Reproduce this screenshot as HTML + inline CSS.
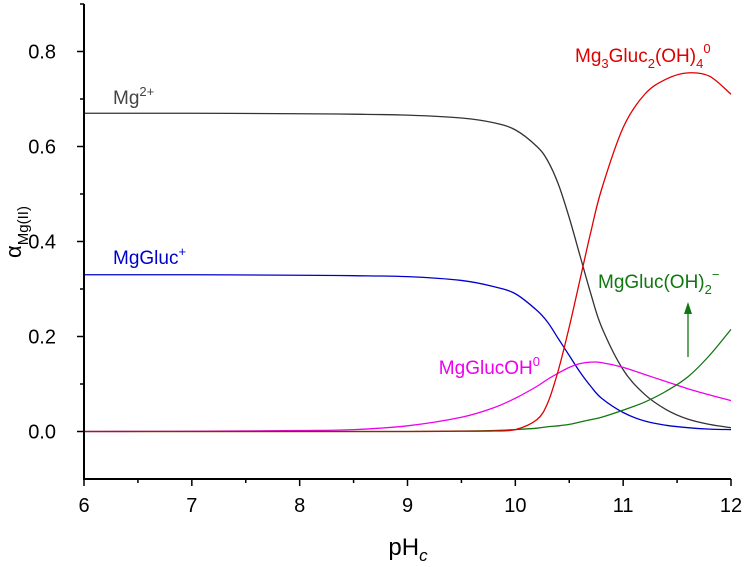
<!DOCTYPE html>
<html><head><meta charset="utf-8"><style>
body{margin:0;background:#fff}
svg text{font-family:"Liberation Sans",Arial,sans-serif}
</style></head><body>
<svg id="c" width="744" height="562"></svg>
<script>
const pH = [6,7,8,8.5,9,9.5,9.8,10,10.2,10.3,10.4,10.5,10.6,10.7,10.8,11,11.2,11.4,11.6,11.8,12];
const mg2 = [0.67,0.67,0.669,0.668,0.666,0.66,0.65,0.635,0.6,0.57,0.52,0.45,0.37,0.29,0.22,0.13,0.078,0.046,0.026,0.015,0.008];
const mgGluc = [0.33,0.33,0.329,0.328,0.326,0.318,0.305,0.29,0.255,0.23,0.195,0.16,0.125,0.095,0.07,0.04,0.022,0.013,0.008,0.005,0.004];
const mgGlucOH = [0,0.0005,0.002,0.004,0.012,0.03,0.05,0.07,0.095,0.11,0.123,0.135,0.143,0.146,0.145,0.135,0.12,0.105,0.09,0.077,0.065];
const mg3 = [0,0,0,0,0,0.0005,0.001,0.004,0.025,0.06,0.13,0.22,0.32,0.42,0.51,0.64,0.71,0.742,0.755,0.748,0.71];
const mgGlucOH2 = [0,0,0,0,0,0.001,0.002,0.004,0.007,0.01,0.012,0.015,0.02,0.025,0.03,0.045,0.062,0.085,0.115,0.16,0.215];
const xTicks = [6,7,8,9,10,11,12];
const yTicks = [0,0.2,0.4,0.6,0.8];
const X0=84,X1=731,Y0=479,Y1=4,xmin=6,xmax=12,ymin=-0.1,ymax=0.9;
const sx=v=>X0+(v-xmin)/(xmax-xmin)*(X1-X0);
const sy=v=>Y0-(v-ymin)/(ymax-ymin)*(Y0-Y1);
const svg=document.getElementById('c');
const NS='http://www.w3.org/2000/svg';
function mk(t,a,p){const e=document.createElementNS(NS,t);for(const k in a)e.setAttribute(k,a[k]);(p||svg).appendChild(e);return e;}
function path(xs,ys){const P=xs.map((x,i)=>[sx(x),sy(ys[i])]);let d='M'+P[0][0]+','+P[0][1];
for(let i=0;i<P.length-1;i++){const p0=P[Math.max(0,i-1)],p1=P[i],p2=P[i+1],p3=P[Math.min(P.length-1,i+2)];
const c1=[p1[0]+(p2[0]-p0[0])/6,p1[1]+(p2[1]-p0[1])/6],c2=[p2[0]-(p3[0]-p1[0])/6,p2[1]-(p3[1]-p1[1])/6];
d+=' C'+c1[0]+','+c1[1]+' '+c2[0]+','+c2[1]+' '+p2[0]+','+p2[1];}return d;}
const series=[[mg2,'#333333','mg2-line'],[mgGluc,'#0000cc','mggluc-line'],[mgGlucOH,'#ee00ee','mgglucoh-line'],[mgGlucOH2,'#117711','mggluc-oh2-line'],[mg3,'#e00000','mg3gluc2oh4-line']];
series.forEach(s=>{const e=mk('path',{d:path(pH,s[0]),fill:'none',stroke:s[1],'stroke-width':1.3});

});
const ax=mk('path',{d:`M${X0},${Y1} V${Y0} H${X1}`,fill:'none',stroke:'#000','stroke-width':2});


xTicks.forEach(v=>{mk('line',{x1:sx(v),x2:sx(v),y1:Y0,y2:Y0+7,stroke:'#000','stroke-width':1.5});
const t=mk('text',{x:sx(v),y:Y0+33,'font-size':20,'text-anchor':'middle'});t.textContent=v;


if(v<12)mk('line',{x1:sx(v+0.5),x2:sx(v+0.5),y1:Y0,y2:Y0+4,stroke:'#000','stroke-width':1.5});});
yTicks.forEach(v=>{mk('line',{x1:X0-7,x2:X0,y1:sy(v),y2:sy(v),stroke:'#000','stroke-width':1.5});
const t=mk('text',{x:X0-28,y:sy(v)+7,'font-size':20,'text-anchor':'end'});t.textContent=v.toFixed(1);


mk('line',{x1:X0-4,x2:X0,y1:sy(v+0.1),y2:sy(v+0.1),stroke:'#000','stroke-width':1.5});});
</script>
<svg width="744" height="562" style="position:absolute;left:0;top:0">
<text x="408" y="555" font-size="24" text-anchor="middle">pH<tspan font-size="17" dy="6" font-style="italic">c</tspan></text>
<text transform="translate(21,232) rotate(-90)" font-size="22" text-anchor="middle">α<tspan font-size="15" dy="7">Mg(II)</tspan></text>
<text x="113" y="104" font-size="19" fill="#444">Mg<tspan font-size="13" dy="-8">2+</tspan></text>
<text x="113" y="264" font-size="19" fill="#0000cc">MgGluc<tspan font-size="13" dy="-8">+</tspan></text>
<text x="540" y="374" font-size="19" fill="#ee00ee" text-anchor="end">MgGlucOH<tspan font-size="13" dy="-8">0</tspan></text>
<text x="575" y="62" font-size="19" fill="#e00000">Mg<tspan font-size="13" dy="6">3</tspan><tspan dy="-6">Gluc</tspan><tspan font-size="13" dy="6">2</tspan><tspan dy="-6">(OH)</tspan><tspan font-size="13" dy="6">4</tspan><tspan font-size="13" dy="-15">0</tspan></text>
<text x="598" y="288" font-size="19" fill="#117711">MgGluc(OH)<tspan font-size="13" dy="6">2</tspan><tspan font-size="13" dy="-15">−</tspan></text>
<line x1="688" y1="357" x2="688" y2="312" stroke="#117711" stroke-width="1.3"/>
<polygon points="688,302 684,314 692,314" fill="#117711"/>
</svg>
</body></html>
